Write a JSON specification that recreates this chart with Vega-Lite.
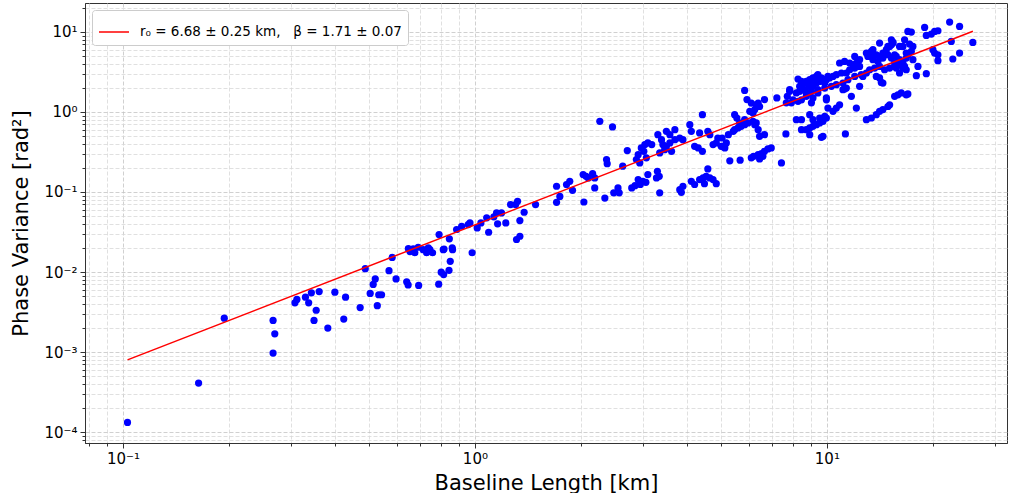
{
  "$schema": "https://vega.github.io/schema/vega-lite/v6.json",
  "width": 922,
  "height": 440,
  "autosize": {"type": "none"},
  "padding": {"left": 85, "top": 3, "right": 2, "bottom": 50},
  "background": "white",
  "config": {
    "font": "DejaVu Sans",
    "view": {"stroke": "#333333", "strokeWidth": 1}
  },
  "datasets": {
    "obs": [
      {"baseline":0.103,"variance":0.000132},{"baseline":0.164,"variance":0.00041},{"baseline":0.194,"variance":0.00265},{"baseline":0.267,"variance":0.00248},{"baseline":0.270,"variance":0.00169},{"baseline":0.267,"variance":0.00097},{"baseline":0.308,"variance":0.00412},{"baseline":0.312,"variance":0.00454},{"baseline":0.330,"variance":0.00485},{"baseline":0.337,"variance":0.00412},{"baseline":0.343,"variance":0.0055},{"baseline":0.361,"variance":0.0057},{"baseline":0.354,"variance":0.00333},{"baseline":0.349,"variance":0.00248},{"baseline":0.382,"variance":0.00199},{"baseline":0.400,"variance":0.0056},{"baseline":0.429,"variance":0.00485},{"baseline":0.424,"variance":0.00258},{"baseline":0.472,"variance":0.0036},{"baseline":0.488,"variance":0.011},{"baseline":0.504,"variance":0.0054},{"baseline":0.514,"variance":0.007},{"baseline":0.521,"variance":0.0082},{"baseline":0.528,"variance":0.0038},{"baseline":0.533,"variance":0.0052},{"baseline":0.543,"variance":0.0052},{"baseline":0.570,"variance":0.0104},{"baseline":0.582,"variance":0.0152},{"baseline":0.597,"variance":0.0082},{"baseline":0.640,"variance":0.00755},{"baseline":0.646,"variance":0.0069},{"baseline":0.692,"variance":0.0068},{"baseline":0.789,"variance":0.00705},{"baseline":0.802,"variance":0.00996},{"baseline":0.815,"variance":0.0093},{"baseline":0.844,"variance":0.0105},{"baseline":0.851,"variance":0.0136},{"baseline":0.982,"variance":0.0174},
      {"baseline":0.647,"variance":0.0196},{"baseline":0.668,"variance":0.0195},{"baseline":0.690,"variance":0.0204},{"baseline":0.675,"variance":0.0174},{"baseline":0.713,"variance":0.019},{"baseline":0.729,"variance":0.0174},{"baseline":0.745,"variance":0.019},{"baseline":0.654,"variance":0.018},{"baseline":0.758,"variance":0.0174},{"baseline":0.813,"variance":0.019},{"baseline":0.864,"variance":0.019},{"baseline":0.737,"variance":0.02},
      {"baseline":0.791,"variance":0.0294},{"baseline":0.846,"variance":0.026},{"baseline":0.817,"variance":0.0194},{"baseline":0.862,"variance":0.020},{"baseline":0.887,"variance":0.034},{"baseline":0.917,"variance":0.0373},{"baseline":0.968,"variance":0.0411},{"baseline":1.015,"variance":0.0356},{"baseline":0.957,"variance":0.0392},{"baseline":1.04,"variance":0.041},{"baseline":1.08,"variance":0.0475},{"baseline":1.094,"variance":0.0314},{"baseline":1.132,"variance":0.0489},{"baseline":1.16,"variance":0.040},{"baseline":1.152,"variance":0.0548},{"baseline":1.19,"variance":0.0548},{"baseline":1.224,"variance":0.041},{"baseline":1.263,"variance":0.0696},{"baseline":1.322,"variance":0.0766},{"baseline":1.305,"variance":0.0696},{"baseline":1.38,"variance":0.0558},{"baseline":1.342,"variance":0.044},{"baseline":1.342,"variance":0.028},{"baseline":1.313,"variance":0.0255},{"baseline":1.487,"variance":0.0696},
      {"baseline":1.706,"variance":0.118},{"baseline":1.743,"variance":0.088},{"baseline":1.706,"variance":0.0743},{"baseline":1.821,"variance":0.124},{"baseline":1.86,"variance":0.136},{"baseline":1.894,"variance":0.105},{"baseline":2.03,"variance":0.165},{"baseline":2.07,"variance":0.157},{"baseline":2.04,"variance":0.075},{"baseline":2.10,"variance":0.15},{"baseline":2.16,"variance":0.17},{"baseline":2.19,"variance":0.15},{"baseline":2.19,"variance":0.1125},{"baseline":2.264,"variance":0.763},{"baseline":2.46,"variance":0.65},{"baseline":2.366,"variance":0.254},{"baseline":2.376,"variance":0.226},{"baseline":2.34,"variance":0.084},{"baseline":2.48,"variance":0.0975},{"baseline":2.55,"variance":0.1125},{"baseline":2.57,"variance":0.0975},{"baseline":2.63,"variance":0.21},{"baseline":2.71,"variance":0.329},
      {"baseline":2.79,"variance":0.1125},{"baseline":2.85,"variance":0.12},{"baseline":2.91,"variance":0.143},{"baseline":2.95,"variance":0.124},{"baseline":3.0,"variance":0.136},{"baseline":3.10,"variance":0.165},{"baseline":3.06,"variance":0.132},{"baseline":2.876,"variance":0.254},{"baseline":2.91,"variance":0.293},{"baseline":2.97,"variance":0.355},{"baseline":3.04,"variance":0.391},{"baseline":3.10,"variance":0.41},{"baseline":3.18,"variance":0.391},{"baseline":3.02,"variance":0.322},{"baseline":3.07,"variance":0.267},{"baseline":2.94,"variance":0.231},{"baseline":3.30,"variance":0.181},{"baseline":3.34,"variance":0.157},{"baseline":3.28,"variance":0.15},{"baseline":3.35,"variance":0.0975},
      {"baseline":3.31,"variance":0.521},{"baseline":3.39,"variance":0.451},{"baseline":3.50,"variance":0.573},{"baseline":3.58,"variance":0.521},{"baseline":3.70,"variance":0.601},{"baseline":3.42,"variance":0.391},{"baseline":3.58,"variance":0.41},{"baseline":3.62,"variance":0.322},{"baseline":3.46,"variance":0.338},{"baseline":3.35,"variance":0.308},{"baseline":3.50,"variance":0.372},{"baseline":3.70,"variance":0.451},{"baseline":3.82,"variance":0.473},{"baseline":3.90,"variance":0.451},{"baseline":3.82,"variance":0.107},{"baseline":3.90,"variance":0.118},{"baseline":3.86,"variance":0.099},
      {"baseline":4.08,"variance":0.694},{"baseline":4.12,"variance":0.573},{"baseline":4.21,"variance":0.372},{"baseline":4.31,"variance":0.355},{"baseline":4.43,"variance":0.322},{"baseline":4.43,"variance":0.925},{"baseline":4.35,"variance":0.547},{"baseline":4.59,"variance":0.573},{"baseline":4.65,"variance":0.521},{"baseline":4.75,"variance":0.391},{"baseline":4.85,"variance":0.41},{"baseline":4.90,"variance":0.473},{"baseline":4.12,"variance":0.136},{"baseline":4.21,"variance":0.124},{"baseline":4.35,"variance":0.143},{"baseline":4.45,"variance":0.15},{"baseline":4.54,"variance":0.157},{"baseline":4.59,"variance":0.194},{"baseline":4.65,"variance":0.15},{"baseline":4.75,"variance":0.143},{"baseline":4.85,"variance":0.127},{"baseline":4.49,"variance":0.127},
      {"baseline":5.04,"variance":0.473},{"baseline":5.18,"variance":0.41},{"baseline":5.01,"variance":0.372},{"baseline":5.25,"variance":0.521},{"baseline":5.42,"variance":0.573},{"baseline":5.30,"variance":0.245},{"baseline":5.67,"variance":0.25},{"baseline":5.07,"variance":0.372},{"baseline":5.13,"variance":0.355},{"baseline":5.47,"variance":0.601},{"baseline":5.59,"variance":0.631},{"baseline":5.71,"variance":0.661},{"baseline":5.84,"variance":0.694},{"baseline":5.97,"variance":0.729},{"baseline":6.17,"variance":0.763},{"baseline":6.30,"variance":0.729},{"baseline":6.44,"variance":0.496},{"baseline":6.38,"variance":0.601},{"baseline":6.24,"variance":0.694},{"baseline":6.65,"variance":0.521},{"baseline":5.47,"variance":0.925},{"baseline":5.55,"variance":0.841},{"baseline":5.65,"variance":0.729},{"baseline":5.84,"variance":0.8},{"baseline":5.84,"variance":1.86},{"baseline":5.93,"variance":1.43},{"baseline":6.10,"variance":1.29},{"baseline":6.30,"variance":1.23},{"baseline":6.44,"variance":1.17},{"baseline":6.65,"variance":1.43},{"baseline":6.24,"variance":1.07},{"baseline":6.04,"variance":1.02},{"baseline":6.17,"variance":0.97},{"baseline":6.38,"variance":1.29},
      {"baseline":6.10,"variance":0.267},{"baseline":6.19,"variance":0.279},{"baseline":6.38,"variance":0.293},{"baseline":6.52,"variance":0.302},{"baseline":6.65,"variance":0.322},{"baseline":6.80,"variance":0.345},{"baseline":6.95,"variance":0.355},{"baseline":6.58,"variance":0.279},{"baseline":6.44,"variance":0.259},{"baseline":7.21,"variance":1.50},{"baseline":7.43,"variance":0.231},{"baseline":7.65,"variance":0.531},
      {"baseline":8.28,"variance":2.58},{"baseline":8.37,"variance":2.09},{"baseline":8.55,"variance":2.30},{"baseline":8.74,"variance":2.41},{"baseline":8.94,"variance":2.53},{"baseline":9.13,"variance":2.66},{"baseline":9.34,"variance":2.78},{"baseline":9.43,"variance":2.92},{"baseline":9.65,"variance":2.66},{"baseline":9.86,"variance":2.53},{"baseline":10.07,"variance":2.78},{"baseline":8.19,"variance":1.73},{"baseline":8.37,"variance":1.81},{"baseline":8.65,"variance":1.90},{"baseline":8.90,"variance":2.09},{"baseline":9.13,"variance":2.19},{"baseline":9.34,"variance":2.30},{"baseline":9.54,"variance":2.41},{"baseline":9.86,"variance":2.30},{"baseline":7.84,"variance":1.81},{"baseline":7.72,"variance":1.57},{"baseline":8.01,"variance":1.42},{"baseline":7.93,"variance":1.30},{"baseline":8.28,"variance":1.36},{"baseline":8.47,"variance":1.42},{"baseline":8.74,"variance":1.57},{"baseline":8.94,"variance":1.73},{"baseline":9.43,"variance":1.73},{"baseline":9.97,"variance":1.50},{"baseline":8.19,"variance":0.801},{"baseline":8.47,"variance":0.601},{"baseline":8.74,"variance":0.601},{"baseline":8.94,"variance":0.631},{"baseline":9.13,"variance":0.661},{"baseline":9.34,"variance":0.694},{"baseline":9.54,"variance":0.729},{"baseline":9.75,"variance":0.763},{"baseline":9.97,"variance":0.841},{"baseline":9.65,"variance":0.482},{"baseline":7.84,"variance":1.90},{"baseline":7.67,"variance":1.30},
      {"baseline":16.99,"variance":10.14},{"baseline":15.41,"variance":7.27},{"baseline":15.08,"variance":6.59},{"baseline":14.76,"variance":6.0},{"baseline":14.43,"variance":5.45},{"baseline":14.12,"variance":4.94},{"baseline":13.82,"variance":5.19},{"baseline":13.38,"variance":5.71},{"baseline":13.08,"variance":4.94},{"baseline":13.52,"variance":4.50},{"baseline":13.97,"variance":4.28},{"baseline":14.43,"variance":4.72},{"baseline":14.91,"variance":5.19},{"baseline":15.25,"variance":4.72},{"baseline":15.75,"variance":4.94},{"baseline":16.09,"variance":4.50},{"baseline":16.45,"variance":4.09},{"baseline":16.81,"variance":5.45},{"baseline":10.87,"variance":4.09},{"baseline":11.23,"variance":4.28},{"baseline":11.61,"variance":4.09},{"baseline":11.86,"variance":3.89},{"baseline":12.13,"variance":4.09},{"baseline":12.39,"variance":3.71},{"baseline":12.0,"variance":3.54},{"baseline":11.61,"variance":3.37},{"baseline":11.36,"variance":3.07},{"baseline":11.0,"variance":3.07},{"baseline":10.64,"variance":2.92},{"baseline":10.41,"variance":2.78},{"baseline":10.18,"variance":2.66},{"baseline":9.97,"variance":2.53},{"baseline":9.13,"variance":2.09},{"baseline":8.94,"variance":2.19},{"baseline":8.65,"variance":2.30},{"baseline":8.47,"variance":2.41},{"baseline":8.55,"variance":1.90},{"baseline":8.74,"variance":1.73},{"baseline":9.04,"variance":1.81},{"baseline":9.43,"variance":1.90},{"baseline":9.86,"variance":1.99},{"baseline":10.30,"variance":2.09},{"baseline":10.64,"variance":2.19},{"baseline":11.11,"variance":2.30},{"baseline":11.48,"variance":2.53},{"baseline":12.0,"variance":2.78},{"baseline":12.53,"variance":2.92},{"baseline":12.95,"variance":3.07},{"baseline":13.23,"variance":3.37},{"baseline":13.67,"variance":3.54},{"baseline":14.12,"variance":3.71},{"baseline":14.59,"variance":3.37},{"baseline":15.08,"variance":3.54},{"baseline":15.58,"variance":3.71},{"baseline":16.09,"variance":3.89},{"baseline":16.63,"variance":3.71},{"baseline":16.81,"variance":3.37},{"baseline":16.09,"variance":3.07},{"baseline":14.12,"variance":2.66},{"baseline":14.43,"variance":2.30},{"baseline":12.39,"variance":2.09},{"baseline":11.36,"variance":1.99},{"baseline":11.11,"variance":1.90},{"baseline":9.13,"variance":1.50},{"baseline":9.04,"variance":1.30},{"baseline":9.97,"variance":1.42},{"baseline":10.07,"variance":1.12},{"baseline":10.64,"variance":1.12},{"baseline":10.41,"variance":1.02},{"baseline":10.87,"variance":1.23},{"baseline":11.74,"variance":1.57},{"baseline":12.13,"variance":1.12},{"baseline":8.94,"variance":0.925},{"baseline":12.95,"variance":0.801},{"baseline":13.38,"variance":0.841},{"baseline":13.82,"variance":0.925},{"baseline":14.12,"variance":1.02},{"baseline":14.43,"variance":1.07},{"baseline":14.91,"variance":1.17},{"baseline":15.08,"variance":1.23},{"baseline":15.58,"variance":1.57},{"baseline":15.92,"variance":1.64},{"baseline":16.27,"variance":1.73},{"baseline":16.81,"variance":1.64},{"baseline":9.13,"variance":0.801},{"baseline":9.54,"variance":0.841},{"baseline":9.86,"variance":0.881},{"baseline":8.47,"variance":0.801},
      {"baseline":22.33,"variance":13.3},{"baseline":23.83,"variance":11.71},{"baseline":18.96,"variance":11.38},{"baseline":19.17,"variance":9.04},{"baseline":19.81,"variance":9.41},{"baseline":20.24,"variance":10.14},{"baseline":20.68,"variance":10.35},{"baseline":17.38,"variance":9.97},{"baseline":22.57,"variance":7.61},{"baseline":25.99,"variance":7.39},{"baseline":16.63,"variance":7.99},{"baseline":16.45,"variance":6.59},{"baseline":17.18,"variance":7.06},{"baseline":17.56,"variance":6.59},{"baseline":17.38,"variance":5.71},{"baseline":16.99,"variance":5.19},{"baseline":16.81,"variance":4.72},{"baseline":15.92,"variance":4.28},{"baseline":15.58,"variance":5.19},{"baseline":15.41,"variance":7.48},{"baseline":15.75,"variance":3.54},{"baseline":16.27,"variance":3.89},{"baseline":17.56,"variance":4.50},{"baseline":18.15,"variance":3.71},{"baseline":17.96,"variance":2.84},{"baseline":19.17,"variance":3.01},{"baseline":20.01,"variance":6.0},{"baseline":20.24,"variance":5.45},{"baseline":20.68,"variance":5.19},{"baseline":20.68,"variance":4.37},{"baseline":22.80,"variance":4.59},{"baseline":23.83,"variance":5.45},{"baseline":16.99,"variance":1.68},
      {"baseline":15.25,"variance":6.92},{"baseline":16.09,"variance":6.59},{"baseline":13.38,"variance":4.94},{"baseline":14.28,"variance":2.34},{"baseline":13.82,"variance":2.78},{"baseline":12.66,"variance":2.78},{"baseline":16.45,"variance":3.54},{"baseline":15.58,"variance":4.09},{"baseline":11.23,"variance":1.94},{"baseline":11.29,"variance":0.531},{"baseline":8.94,"variance":0.521},{"baseline":9.75,"variance":0.496},
      {"baseline":12.39,"variance":4.50},{"baseline":12.0,"variance":4.94},{"baseline":12.95,"variance":5.45},{"baseline":13.52,"variance":6.0},{"baseline":14.12,"variance":7.27},{"baseline":14.91,"variance":6.59},{"baseline":15.25,"variance":7.99}
    ],
    "fit": [
      {"baseline":0.103,"variance":0.000797,"label":"r₀ = 6.68 ± 0.25 km,\u00a0\u00a0\u00a0β = 1.71 ± 0.07"},
      {"baseline":26.0,"variance":10.2,"label":"r₀ = 6.68 ± 0.25 km,\u00a0\u00a0\u00a0β = 1.71 ± 0.07"}
    ]
  },
  "encoding": {
    "x": {
      "field": "baseline", "type": "quantitative",
      "scale": {"type": "log", "domain": [0.078, 32.5], "nice": false},
      "axis": {
        "title": "Baseline Length [km]",
        "values": [0.08,0.09,0.1,0.2,0.3,0.4,0.5,0.6,0.7,0.8,0.9,1,2,3,4,5,6,7,8,9,10,20,30],
        "labelExpr": "abs(log(datum.value)/LN10 - round(log(datum.value)/LN10)) < 0.001 ? '10' + (round(log(datum.value)/LN10) < 0 ? '⁻' : '') + substring('⁰¹²³⁴⁵⁶⁷⁸⁹', abs(round(log(datum.value)/LN10)), abs(round(log(datum.value)/LN10)) + 1) : ''",
        "labelOverlap": false, "labelFlush": false,
        "grid": true, "gridDash": [4, 2],
        "gridColor": {"condition": {"test": "abs(log(datum.value)/LN10 - round(log(datum.value)/LN10)) < 0.001", "value": "#c4c4c4"}, "value": "#d8d8d8"},
        "gridWidth": 0.8,
        "tickSize": {"condition": {"test": "abs(log(datum.value)/LN10 - round(log(datum.value)/LN10)) < 0.001", "value": 5}, "value": 3},
        "tickColor": "#333333", "domainColor": "#333333",
        "labelFont": "DejaVu Sans", "labelFontSize": 15, "labelColor": "black", "labelPadding": 3,
        "titleFont": "DejaVu Sans", "titleFontSize": 21, "titleFontWeight": "normal", "titleColor": "black", "titlePadding": 6
      }
    },
    "y": {
      "field": "variance", "type": "quantitative",
      "scale": {"type": "log", "domain": [7.3e-5, 23], "nice": false},
      "axis": {
        "title": "Phase Variance [rad²]",
        "values": [8e-5,9e-5,1e-4,2e-4,3e-4,4e-4,5e-4,6e-4,7e-4,8e-4,9e-4,0.001,0.002,0.003,0.004,0.005,0.006,0.007,0.008,0.009,0.01,0.02,0.03,0.04,0.05,0.06,0.07,0.08,0.09,0.1,0.2,0.3,0.4,0.5,0.6,0.7,0.8,0.9,1,2,3,4,5,6,7,8,9,10,20],
        "labelExpr": "abs(log(datum.value)/LN10 - round(log(datum.value)/LN10)) < 0.001 ? '10' + (round(log(datum.value)/LN10) < 0 ? '⁻' : '') + substring('⁰¹²³⁴⁵⁶⁷⁸⁹', abs(round(log(datum.value)/LN10)), abs(round(log(datum.value)/LN10)) + 1) : ''",
        "labelOverlap": false, "labelFlush": false,
        "grid": true, "gridDash": [4, 2],
        "gridColor": {"condition": {"test": "abs(log(datum.value)/LN10 - round(log(datum.value)/LN10)) < 0.001", "value": "#c4c4c4"}, "value": "#d8d8d8"},
        "gridWidth": 0.8,
        "tickSize": {"condition": {"test": "abs(log(datum.value)/LN10 - round(log(datum.value)/LN10)) < 0.001", "value": 5}, "value": 3},
        "tickColor": "#333333", "domainColor": "#333333",
        "labelFont": "DejaVu Sans", "labelFontSize": 15, "labelColor": "black", "labelPadding": 3,
        "titleFont": "DejaVu Sans", "titleFontSize": 21, "titleFontWeight": "normal", "titleColor": "black", "titlePadding": 12
      }
    }
  },
  "layer": [
    {
      "data": {"name": "obs"},
      "mark": {"type": "circle", "color": "#0000ff", "opacity": 1, "size": 52}
    },
    {
      "data": {"name": "fit"},
      "mark": {"type": "line", "strokeWidth": 1.5},
      "encoding": {
        "stroke": {
          "field": "label", "type": "nominal",
          "scale": {"range": ["#ff0000"]},
          "legend": {
            "title": null, "orient": "top-left", "offset": 7, "padding": 6,
            "fillColor": "white", "strokeColor": "#cccccc", "cornerRadius": 3,
            "symbolType": "stroke", "symbolSize": 900, "symbolStrokeWidth": 1.5,
            "labelFont": "DejaVu Sans", "labelFontSize": 13.5, "labelColor": "black", "labelOffset": 10, "labelLimit": 0
          }
        }
      }
    }
  ]
}
